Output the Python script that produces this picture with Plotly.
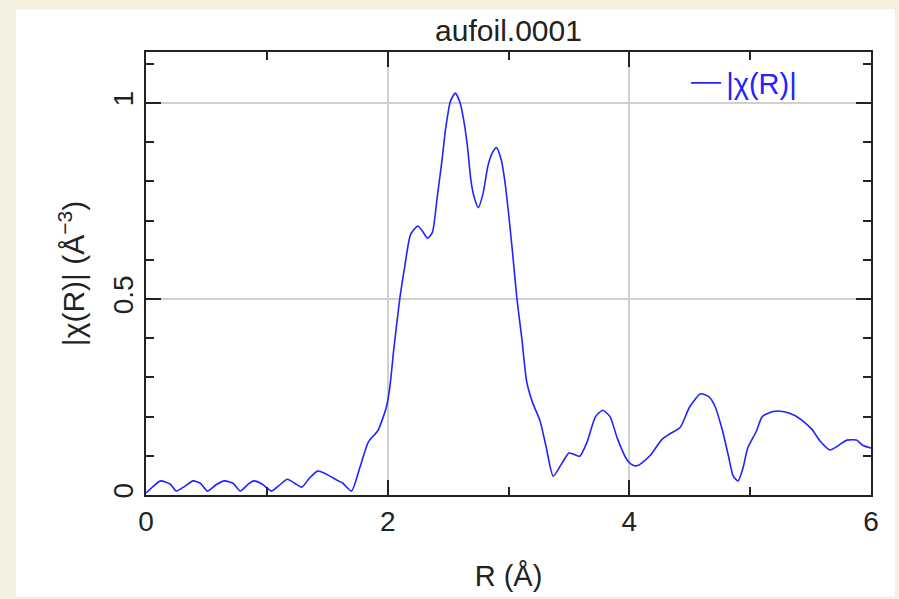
import plotly.graph_objects as go

R = [0.00, 0.06, 0.12, 0.20, 0.25, 0.32, 0.39, 0.45, 0.51, 0.58, 0.65, 0.72, 0.78, 0.84, 0.89, 0.96,
     1.04, 1.10, 1.17, 1.23, 1.29, 1.35, 1.42, 1.50, 1.58, 1.63, 1.70, 1.77, 1.84, 1.92, 1.99, 2.02,
     2.05, 2.10, 2.14, 2.19, 2.25, 2.29, 2.33, 2.37, 2.41, 2.45, 2.48, 2.52, 2.56, 2.60, 2.63, 2.66,
     2.69, 2.72, 2.75, 2.79, 2.83, 2.87, 2.90, 2.94, 2.97, 3.00, 3.03, 3.07, 3.11, 3.15, 3.20, 3.26,
     3.31, 3.37, 3.44, 3.50, 3.54, 3.59, 3.65, 3.72, 3.78, 3.84, 3.90, 3.98, 4.03, 4.07, 4.17, 4.27,
     4.33, 4.42, 4.50, 4.59, 4.66, 4.71, 4.77, 4.82, 4.86, 4.90, 4.94, 4.98, 5.05, 5.10, 5.19, 5.27,
     5.37, 5.44, 5.51, 5.58, 5.66, 5.72, 5.80, 5.88, 5.93, 6.00]

chiR = [0.005, 0.022, 0.036, 0.028, 0.010, 0.022, 0.036, 0.030, 0.010, 0.026, 0.036, 0.030, 0.010, 0.026, 0.036, 0.028,
        0.010, 0.024, 0.040, 0.030, 0.020, 0.042, 0.061, 0.052, 0.038, 0.030, 0.010, 0.070, 0.135, 0.165, 0.225, 0.280,
        0.370, 0.500, 0.580, 0.665, 0.686, 0.672, 0.655, 0.670, 0.760, 0.855, 0.935, 1.005, 1.025, 1.000, 0.955, 0.890,
        0.800, 0.755, 0.733, 0.770, 0.840, 0.875, 0.886, 0.855, 0.800, 0.720, 0.630, 0.500, 0.400, 0.290, 0.235, 0.190,
        0.125, 0.048, 0.080, 0.107, 0.104, 0.099, 0.135, 0.200, 0.216, 0.200, 0.145, 0.090, 0.076, 0.075, 0.100, 0.142,
        0.155, 0.172, 0.225, 0.258, 0.250, 0.225, 0.165, 0.100, 0.048, 0.036, 0.068, 0.120, 0.162, 0.200, 0.213, 0.213,
        0.203, 0.188, 0.168, 0.137, 0.115, 0.124, 0.140, 0.140, 0.127, 0.120]

x_ticks = [0, 2, 4, 6]
y_ticks = [0, 0.5, 1]
y_tick_labels = ["0", "0.5", "1"]

FONT = "Liberation Sans"
INK = "#222222"
BLUE = "#2222ff"
W, H = 899, 599

fig = go.Figure()
fig.add_trace(go.Scatter(x=R, y=chiR, mode="lines", name="|χ(R)|",
                         line=dict(color=BLUE, width=1.6, shape="spline", smoothing=0.6)))

axis_common = dict(
    showline=True, linecolor=INK, linewidth=2, mirror="allticks",
    ticks="inside", ticklen=15, tickwidth=2, tickcolor=INK,
    showgrid=True, gridcolor="#d0d0d0", gridwidth=1.5,
    zeroline=False, tickfont=dict(family=FONT, size=28, color=INK),
)

fig.update_xaxes(
    range=[0, 6], tickvals=x_ticks, ticktext=[str(v) for v in x_ticks],
    minor=dict(dtick=1, ticks="inside", ticklen=8, tickwidth=2, tickcolor=INK, showgrid=False),
    title=dict(text="R (Å)", font=dict(family=FONT, size=29, color=INK), standoff=30),
    **axis_common,
)
fig.update_yaxes(
    range=[0, 1.13], tickvals=y_ticks, ticktext=y_tick_labels, tickangle=-90,
    minor=dict(dtick=0.1, ticks="inside", ticklen=8, tickwidth=2, tickcolor=INK, showgrid=False),
    title=dict(text="|χ(R)| (Å<sup>−3</sup>)", font=dict(family=FONT, size=30, color=INK), standoff=14),
    **axis_common,
)

fig.add_shape(type="rect", xref="paper", yref="paper",
              x0=(16 - 146) / (W - 146 - 28), x1=(895 - 146) / (W - 146 - 28),
              y0=-(599 - 497) / (497 - 52), y1=(497 - 9) / (497 - 52),
              fillcolor="white", line=dict(width=0), layer="below")

fig.update_layout(
    width=W, height=H,
    margin=dict(l=146, r=28, t=52, b=102),
    paper_bgcolor="#f4f0e0", plot_bgcolor="white",
    title=dict(text="aufoil.0001", x=(146 + 871) / 2 / W, xanchor="center",
               y=1 - 30 / H, yanchor="middle", yref="container",
               font=dict(family=FONT, size=30, color=INK)),
    showlegend=True,
    legend=dict(x=0.745, y=0.93, xanchor="left", yanchor="middle",
                bgcolor="rgba(0,0,0,0)", font=dict(family=FONT, size=29, color=BLUE),
                itemwidth=30),
)

fig.write_html("out.html")
